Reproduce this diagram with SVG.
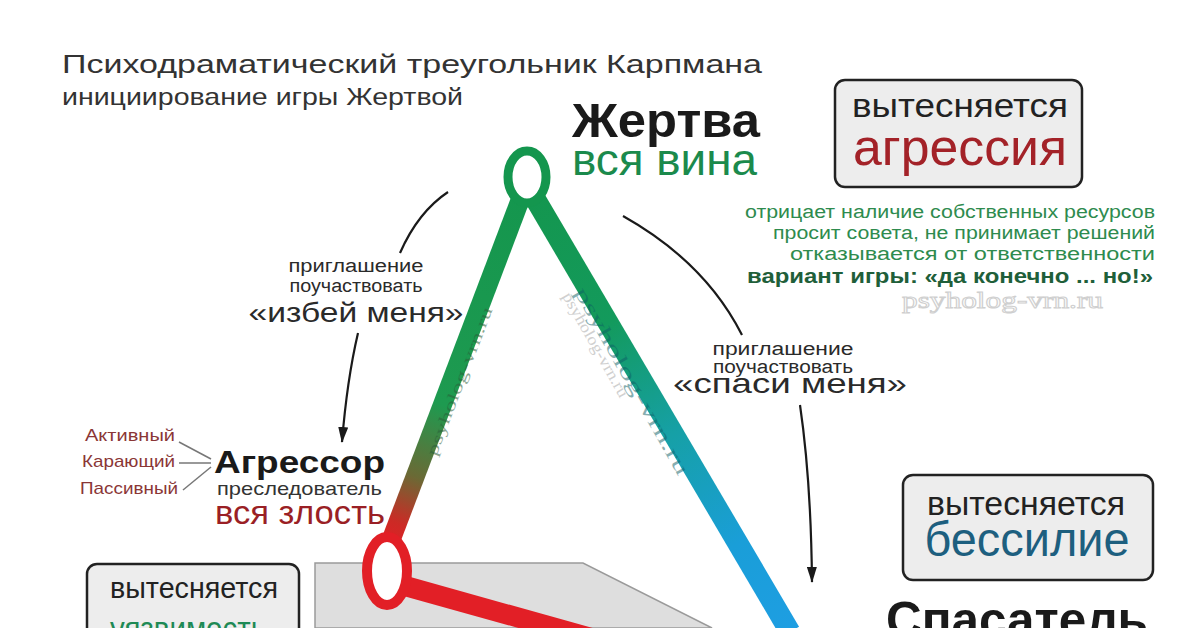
<svg xmlns="http://www.w3.org/2000/svg" width="1200" height="628" viewBox="0 0 1200 628">
<defs>
<style>
text{font-family:"Liberation Sans",Arial,sans-serif}
.t{fill:#333}
.b{font-weight:bold}
.box{fill:#ededed;stroke:#222;stroke-width:2.5}
.arc{fill:none;stroke:#1a1a1a;stroke-width:2.2}
.wm{font-family:"Liberation Serif","Times New Roman",serif}
.inv{fill:#2a2a2a;text-anchor:middle}
.gr{fill:#2e8b4e;font-size:18px;text-anchor:end}
.lab{fill:#8a3636;font-size:17px;text-anchor:end}
.tick{stroke:#777;stroke-width:1.5}
</style>
<marker id="ah" viewBox="0 0 16 10" refX="15" refY="5" markerWidth="16" markerHeight="10" orient="auto" markerUnits="userSpaceOnUse">
<path d="M0,0 L16,5 L0,10 z" fill="#1a1a1a"/>
</marker>
<linearGradient id="gl" gradientUnits="userSpaceOnUse" x1="524" y1="190" x2="388" y2="548">
<stop offset="0" stop-color="#14964e"/>
<stop offset="0.6" stop-color="#1e9a50"/>
<stop offset="0.8" stop-color="#6a6a35"/>
<stop offset="0.93" stop-color="#cc2a25"/>
<stop offset="1" stop-color="#e21f26"/>
</linearGradient>
<linearGradient id="gr" gradientUnits="userSpaceOnUse" x1="530" y1="190" x2="790" y2="632">
<stop offset="0" stop-color="#14964e"/>
<stop offset="0.3" stop-color="#139a5c"/>
<stop offset="0.55" stop-color="#16a0a6"/>
<stop offset="0.8" stop-color="#1a9ed8"/>
<stop offset="1" stop-color="#1e9ee2"/>
</linearGradient>
</defs>
<rect width="1200" height="628" fill="#fff"/>

<g id="title">
<text class="t" x="62" y="73" font-size="25" textLength="700" lengthAdjust="spacingAndGlyphs">Психодраматический треугольник Карпмана</text>
<text class="t" x="62" y="105" font-size="24" textLength="401" lengthAdjust="spacingAndGlyphs">инициирование игры Жертвой</text>
</g>

<g id="base-shape">
<polygon points="315,563 583,563 712,628 315,628" fill="#dedede" stroke="#9a9a9a" stroke-width="1.5"/>
</g>

<g id="box-vulnerability">
<rect class="box" x="87" y="564" width="212" height="100" rx="10"/>
<text x="194" y="598" font-size="30" fill="#222" text-anchor="middle" textLength="168" lengthAdjust="spacingAndGlyphs">вытесняется</text>
<text x="188" y="640" font-size="34" fill="#1e8a55" text-anchor="middle" textLength="156" lengthAdjust="spacingAndGlyphs">уязвимость</text>
</g>

<g id="triangle">
<line x1="524" y1="190" x2="388" y2="548" stroke="url(#gl)" stroke-width="19"/>
<line x1="530" y1="190" x2="790" y2="632" stroke="url(#gr)" stroke-width="21"/>
<line x1="398" y1="584" x2="620" y2="646" stroke="#e21f26" stroke-width="20"/>
<text class="wm" x="0" y="0" font-size="16" fill="#2b5f3a" opacity="0.55" transform="translate(436,457) rotate(-69)" textLength="158" lengthAdjust="spacingAndGlyphs">psyholog-vrn.ru</text>
<text class="wm" x="0" y="0" font-size="20" fill="#0e5f66" opacity="0.5" transform="translate(574,292) rotate(60.5)" textLength="212" lengthAdjust="spacingAndGlyphs">psyholog-vrn.ru</text>
<text class="wm" x="0" y="0" font-size="16" fill="#d0d0d0" transform="translate(562,296) rotate(60.5)" textLength="118" lengthAdjust="spacingAndGlyphs">psyholog-vrn.ru</text>
</g>

<g id="node-victim">
<ellipse cx="527" cy="177" rx="19" ry="26" fill="#fff" stroke="#14964e" stroke-width="9"/>
<text class="b" x="572" y="137" font-size="48" fill="#1a1a1a" textLength="188" lengthAdjust="spacingAndGlyphs">Жертва</text>
<text x="572" y="175" font-size="44" fill="#1b8a4c" textLength="185" lengthAdjust="spacingAndGlyphs">вся вина</text>
</g>

<g id="victim-traits">
<text class="gr" x="1155" y="218" textLength="410" lengthAdjust="spacingAndGlyphs">отрицает наличие собственных ресурсов</text>
<text class="gr" x="1155" y="239" textLength="382" lengthAdjust="spacingAndGlyphs">просит совета, не принимает решений</text>
<text class="gr" x="1155" y="260" textLength="365" lengthAdjust="spacingAndGlyphs">отказывается от ответственности</text>
<text class="b" x="1153" y="283" font-size="20" fill="#1f5f3a" text-anchor="end" textLength="406" lengthAdjust="spacingAndGlyphs">вариант игры: «да конечно ... но!»</text>
<text class="wm" x="902" y="308" font-size="24" fill="#fff" stroke="#cfcfcf" stroke-width="1" textLength="201" lengthAdjust="spacingAndGlyphs">psyholog-vrn.ru</text>
</g>

<g id="box-aggression">
<rect class="box" x="835" y="80" width="247" height="107" rx="10"/>
<text x="960" y="117" font-size="34" fill="#222" text-anchor="middle" textLength="216" lengthAdjust="spacingAndGlyphs">вытесняется</text>
<text x="960" y="165" font-size="52" fill="#a32228" text-anchor="middle" textLength="214" lengthAdjust="spacingAndGlyphs">агрессия</text>
</g>

<g id="box-powerlessness">
<rect class="box" x="903" y="475" width="250" height="105" rx="10"/>
<text x="1026" y="515" font-size="34" fill="#222" text-anchor="middle" textLength="198" lengthAdjust="spacingAndGlyphs">вытесняется</text>
<text x="1027" y="556" font-size="48" fill="#1d5f7f" text-anchor="middle" textLength="205" lengthAdjust="spacingAndGlyphs">бессилие</text>
</g>

<g id="node-aggressor">
<ellipse cx="387" cy="571" rx="20" ry="34" fill="#fff" stroke="#e21f26" stroke-width="10"/>
<text class="b" x="214" y="473" font-size="32" fill="#1a1a1a" textLength="171" lengthAdjust="spacingAndGlyphs">Агрессор</text>
<text x="217" y="495" font-size="19" fill="#333" textLength="165" lengthAdjust="spacingAndGlyphs">преследователь</text>
<text x="215" y="524" font-size="34" fill="#9a1f25" textLength="170" lengthAdjust="spacingAndGlyphs">вся злость</text>
<text class="lab" x="175" y="441" textLength="90" lengthAdjust="spacingAndGlyphs">Активный</text>
<text class="lab" x="175" y="467" textLength="93" lengthAdjust="spacingAndGlyphs">Карающий</text>
<text class="lab" x="178" y="494" textLength="98" lengthAdjust="spacingAndGlyphs">Пассивный</text>
<line class="tick" x1="179" y1="442" x2="211" y2="459"/>
<line class="tick" x1="179" y1="463" x2="211" y2="463"/>
<line class="tick" x1="183" y1="490" x2="211" y2="467"/>
</g>

<g id="node-rescuer">
<text class="b" x="886" y="637" font-size="50" fill="#1a1a1a" textLength="262" lengthAdjust="spacingAndGlyphs">Спасатель</text>
</g>

<g id="connectors">
<path class="arc" d="M448,192 Q418,212 400,253"/>
<path class="arc" d="M358,333 Q347,380 342,442" marker-end="url(#ah)"/>
<path class="arc" d="M623,216 Q705,262 742,335"/>
<path class="arc" d="M800,405 Q811,480 812,582" marker-end="url(#ah)"/>
</g>

<g id="invite-labels">
<text class="inv" x="356" y="272" font-size="18" textLength="135" lengthAdjust="spacingAndGlyphs">приглашение</text>
<text class="inv" x="356" y="292" font-size="18" textLength="133" lengthAdjust="spacingAndGlyphs">поучаствовать</text>
<text class="inv" x="356" y="322" font-size="28" textLength="215" lengthAdjust="spacingAndGlyphs">«избей меня»</text>
<text class="inv" x="783" y="355" font-size="18" textLength="141" lengthAdjust="spacingAndGlyphs">приглашение</text>
<text class="inv" x="783" y="373" font-size="18" textLength="140" lengthAdjust="spacingAndGlyphs">поучаствовать</text>
<text class="inv" x="790" y="393" font-size="28" textLength="234" lengthAdjust="spacingAndGlyphs">«спаси меня»</text>
</g>
</svg>
